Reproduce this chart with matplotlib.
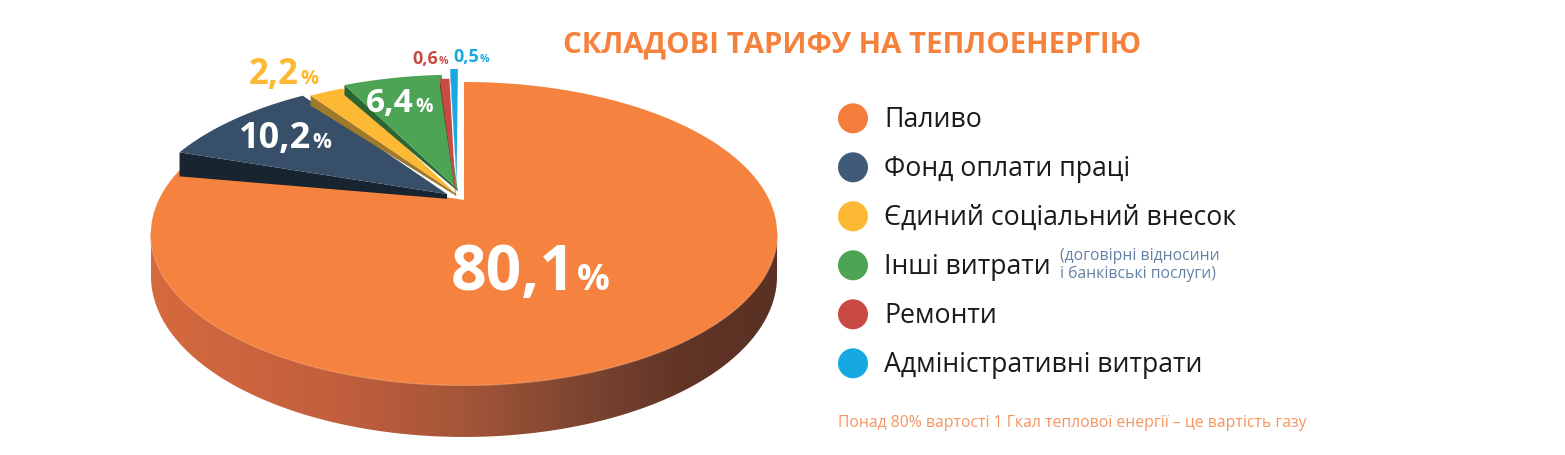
import numpy as np
import matplotlib
matplotlib.use('Agg')
import matplotlib.pyplot as plt
from matplotlib.patches import Polygon, Circle
from matplotlib.colors import LinearSegmentedColormap

# ---------------- data ----------------
categories = ['Паливо', 'Фонд оплати праці', 'Єдиний соціальний внесок',
              'Інші витрати', 'Ремонти', 'Адміністративні витрати']
shares = [80.1, 10.2, 2.2, 6.4, 0.6, 0.5]
value_labels = ['80,1', '10,2', '2,2', '6,4', '0,6', '0,5']
title = 'СКЛАДОВІ ТАРИФУ НА ТЕПЛОЕНЕРГІЮ'
note_lines = ['(договірні відносини', 'і банківські послуги)']
footer = 'Понад 80% вартості 1 Гкал теплової енергії – це вартість газу'

# ---------------- style ----------------
colors = ['#F5823E', '#384F69', '#FDB933', '#4CA454', '#C94A45', '#16A8E0']
legend_colors = ['#F57D3C', '#405A7A', '#FDB933', '#4CA454', '#C94A45', '#16A8E0']
wall_colors = [None, '#18242F', '#A07A2A', '#2C6533', '#7A2828', '#0D6E99']
explode = [0, 0.07, 0.05, 0.08, 0.044, 0.14]
explode_rot = [0, 0, 0, 0, 35.6, 9.4]
wall_t = [0, 24, 10, 10, 8, 6]
label_r = [0.45, 0.78, 1.30, 0.79, 1.22, 1.17]
label_dth = [-16.7, 0.8, 4.2, 4.1, 4.7, -1.4]
label_size = [45, 26, 25, 24, 13, 13]
label_color = ['white', 'white', '#FDB933', 'white', '#C94A45', '#16A8E0']
label_explode = [0, 0.07, 0.05, 0.08, 0.06, 0.12]
FONT = 'Open Sans'

W, Hpx = 1565, 455
fig = plt.figure(figsize=(W / 100, Hpx / 100), dpi=100)
ax = fig.add_axes([0, 0, 1, 1])
ax.set_xlim(0, W)
ax.set_ylim(Hpx, 0)
ax.axis('off')

# perspective projection of the pie plane
CX, CY, A, B, P, DEPTH = 464.0, 200.0, 305.3, 144.1, 0.221, 40.5


def proj(u, v, depth=0.0):
    u = np.asarray(u, float)
    v = np.asarray(v, float)
    w = 1 + P * v
    return CX + A * u / w, CY - B * v / w + depth / w


def arc(t1, t2, n=200, off=(0, 0), depth=0.0):
    th = np.radians(np.linspace(t1, t2, n))
    return proj(np.cos(th) + off[0], np.sin(th) + off[1], depth)


fr = np.array(shares) / np.sum(shares)
cum = np.concatenate([[0], np.cumsum(fr)])
th_start = 90 - 360 * cum[:-1]   # larger angle
th_end = 90 - 360 * cum[1:]      # smaller angle
mids = (th_start + th_end) / 2


def offset(i):
    d = np.radians(mids[i] + explode_rot[i])
    return explode[i] * np.cos(d), explode[i] * np.sin(d)


# ---- orange body: side with gradient ----
sil = np.degrees(np.arcsin(P))
s1, s2 = -180 + sil, -sil
xt, yt = arc(s1, s2)
xb, yb = arc(s2, s1, depth=DEPTH)
side = Polygon(np.column_stack([np.r_[xt, xb], np.r_[yt, yb]]), closed=True,
               facecolor='none', edgecolor='none')
ax.add_patch(side)
cmap = LinearSegmentedColormap.from_list(
    'side', [(0, '#D66A3F'), (0.3, '#C15F3D'), (0.5, '#A45538'),
             (0.7, '#7A4431'), (0.85, '#613426'), (1, '#5A3124')])
grad = np.linspace(0, 1, 512)[None, :]
im = ax.imshow(grad, extent=[xt.min(), xt.max(), yb.max() + 5, yt.min()],
               cmap=cmap, aspect='auto', zorder=1, interpolation='bilinear')
im.set_clip_path(side)
ax.set_xlim(0, W)
ax.set_ylim(Hpx, 0)
# light rim on the front edge
ax.plot(xt, yt, color='#F9A06A', lw=1.5, alpha=0.7, zorder=2)

# ---- orange top face ----
ox, oy = arc(th_end[0], th_start[0], n=600)
ax.add_patch(Polygon(np.column_stack([np.r_[CX, ox], np.r_[CY, oy]]), closed=True,
                     facecolor=colors[0], edgecolor='none', zorder=3))

# ---- exploded small slices ----
z = 4
for i in range(1, len(shares)):
    off = offset(i)
    ax_, ay_ = proj(off[0], off[1])
    t1 = np.radians(th_start[i])
    qx, qy = proj(np.cos(t1) + off[0], np.sin(t1) + off[1])
    wall = [(ax_, ay_), (qx, qy), (qx, qy + wall_t[i]), (ax_, ay_ + wall_t[i] * 0.2)]
    ax.add_patch(Polygon(wall, closed=True, facecolor=wall_colors[i],
                         edgecolor='none', zorder=z))
    z += 1
    sx, sy = arc(th_end[i], th_start[i], n=120, off=off)
    ax.add_patch(Polygon(np.column_stack([np.r_[ax_, sx], np.r_[ay_, sy]]), closed=True,
                         facecolor=colors[i], edgecolor='none', zorder=z))
    z += 1

# ---- value labels ----
fig.canvas.draw()
renderer = fig.canvas.get_renderer()
inv = ax.transData.inverted()
for i in range(len(shares)):
    m = np.radians(mids[i] + label_dth[i])
    em = np.radians(mids[i])
    u = label_r[i] * np.cos(m) + label_explode[i] * np.cos(em)
    v = label_r[i] * np.sin(m) + label_explode[i] * np.sin(em)
    x, y = proj(u, v)
    base = float(y) + label_size[i] / 2
    t = ax.text(float(x), base, value_labels[i], ha='center', va='baseline',
                fontsize=label_size[i], fontweight='bold', color=label_color[i],
                family=FONT, zorder=30)
    bb = t.get_window_extent(renderer)
    x1 = inv.transform((bb.x1, bb.y0))[0]
    ax.text(x1 + 1, base, '%', ha='left', va='baseline',
            fontsize=label_size[i] * 0.58, fontweight='bold', color=label_color[i],
            family=FONT, zorder=30)

# ---- title ----
ax.text(852, 52, title, ha='center', va='baseline', fontsize=21.2, fontweight='bold',
        color='#F5823C', family=FONT)

# ---- legend ----
leg_x, leg_y0, leg_dy = 853, 118.3, 49
for i, name in enumerate(categories):
    yy = leg_y0 + i * leg_dy
    ax.add_patch(Circle((leg_x, yy), 15, facecolor=legend_colors[i], edgecolor='none'))
    ax.text(884, yy + 8.6, name, ha='left', va='baseline', fontsize=19.2,
            color='#1A1A1A', family=FONT)
    if i == 3:
        ax.text(1060, yy - 5, note_lines[0], ha='left', va='baseline', fontsize=11.3,
                color='#6482A5', family=FONT)
        ax.text(1060, yy + 13, note_lines[1], ha='left', va='baseline', fontsize=11.3,
                color='#6482A5', family=FONT)

# ---- footer ----
ax.text(838, 427, footer, ha='left', va='baseline', fontsize=11.3,
        color='#F6955F', family=FONT)

fig.savefig('out.png', dpi=100)
